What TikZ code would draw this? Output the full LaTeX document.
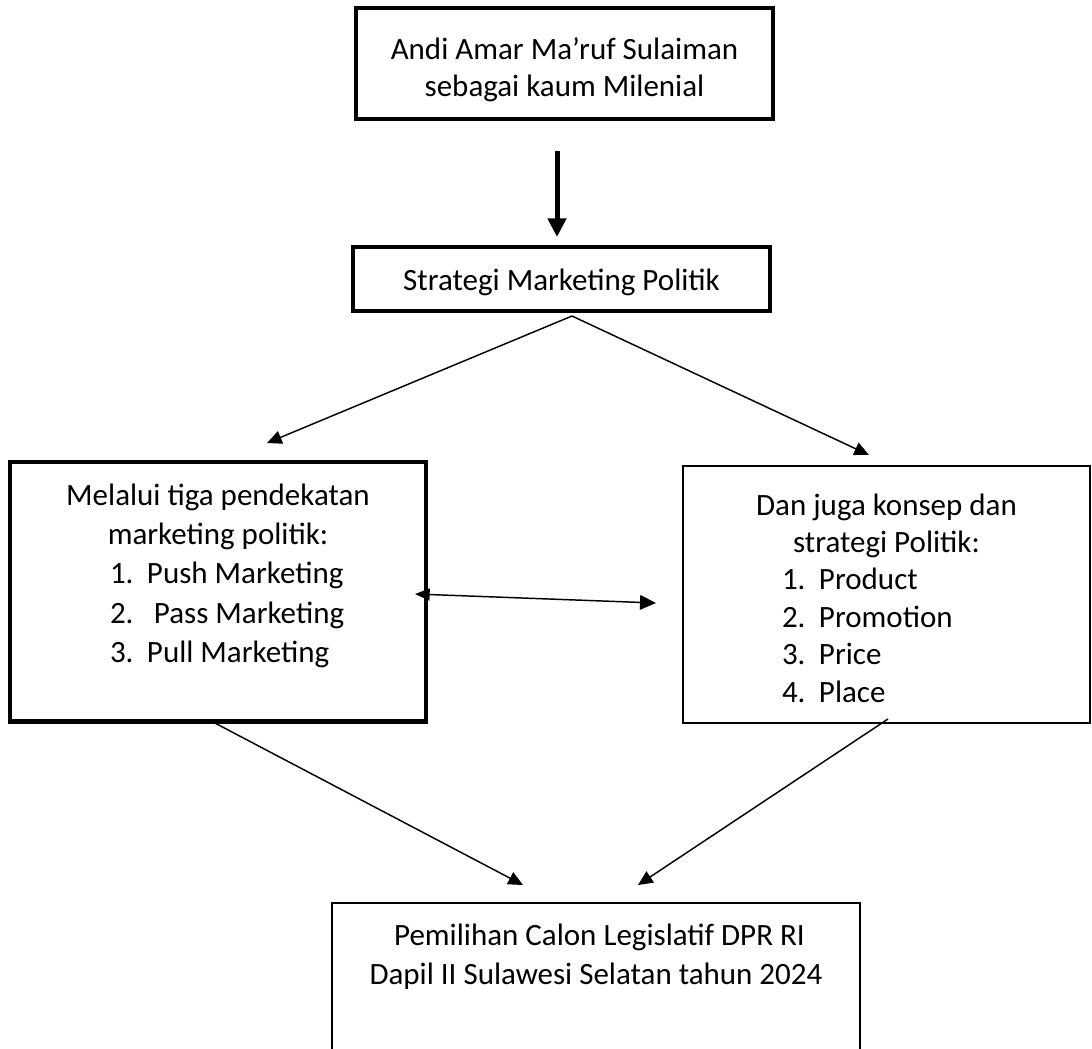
\documentclass[tikz,border=0pt]{standalone}
\usepackage{fontspec}
\setmainfont{Carlito}
\usetikzlibrary{arrows.meta}
\newcommand{\numline}[3]{\makebox[\linewidth][l]{\hspace*{#1}\makebox[27.75pt][l]{#2}#3}}
\newcommand{\boxfont}[1]{\fontsize{23.25pt}{#1}\selectfont}

\begin{document}
\begin{tikzpicture}[x=0.75pt,y=-0.75pt,
  box/.style={draw,line width=1.5pt,inner sep=0pt,outer sep=0pt},
  heavybox/.style={box,line width=3.5pt},
  arr/.style={-{Triangle[length=11pt,width=10pt]},line width=1.1pt},
  bigarr/.style={-{Triangle[length=14pt,width=13.5pt]},line width=3.75pt}]
\useasboundingbox[fill=white] (0,0) rectangle (1092,1049);

\node[heavybox] (top) at (564.5,63.5) {\parbox[c][83.25pt][t]{312.75pt}{\boxfont{27.4pt}\centering
  \rule{0pt}{39pt}Andi Amar Ma’ruf Sulaiman\\ sebagai kaum Milenial}};
\node[heavybox] (strat) at (561.5,279) {\parbox[c][48pt][t]{312.75pt}{\boxfont{28pt}\centering
  \rule{0pt}{32.25pt}Strategi Marketing Politik}};
\node[heavybox] (left) at (218,591.75) {\parbox[c][194.6pt][t]{312pt}{\boxfont{29.6pt}\centering
  \rule{0pt}{32.25pt}Melalui tiga pendekatan\\ marketing politik:\\
  \numline{75pt}{1.}{Push Marketing}\\
  \numline{75pt}{2.}{\ Pass Marketing}\\
  \numline{75pt}{3.}{Pull Marketing}}};
\node[box] (right) at (886.5,594.5) {\parbox[c][192.75pt][t]{305.25pt}{\boxfont{28.05pt}\centering
  \rule{0pt}{36.75pt}Dan juga konsep dan\\ strategi Politik:\\
  \numline{74.25pt}{1.}{Product}\\
  \numline{74.25pt}{2.}{Promotion}\\
  \numline{74.25pt}{3.}{Price}\\
  \numline{74.25pt}{4.}{Place}}};
\node[box] (bottom) at (596,988) {\parbox[c][127.5pt][t]{396pt}{\boxfont{29.25pt}\centering
  \rule{0pt}{31.5pt}\hspace*{5.25pt}Pemilihan Calon Legislatif DPR RI\\ Dapil II Sulawesi Selatan tahun 2024}};

\coordinate (v1) at ([shift={(-7.5,32)}]top.south);
\coordinate (v2) at ([shift={(-4.5,-10)}]strat.north);
\coordinate (fork) at ([shift={(10.5,5)}]strat.south);
\coordinate (tipL) at ([shift={(49,-19)}]left.north);
\coordinate (tipR) at ([shift={(-17.5,-11)}]right.north);
\coordinate (dL) at ([shift={(-11,2.25)}]left.east);
\coordinate (dR) at ([shift={(-27,8.5)}]right.west);
\coordinate (sL) at ([shift={(-6,0)}]left.south);
\coordinate (eL) at ([shift={(-73,-18)}]bottom.north);
\coordinate (sR) at ([shift={(1.5,-4)}]right.south);
\coordinate (eR) at ([shift={(42,-18)}]bottom.north);

\draw[bigarr] (v1) -- (v2);
\draw[arr] (fork) -- (tipL);
\draw[arr] (fork) -- (tipR);
\draw[{Triangle[length=11pt,width=9pt]}-{Triangle[length=12pt,width=11pt]},line width=1.1pt] (dL) -- (dR);
\draw[arr] (sL) -- (eL);
\draw[arr] (sR) -- (eR);
\end{tikzpicture}
\end{document}
